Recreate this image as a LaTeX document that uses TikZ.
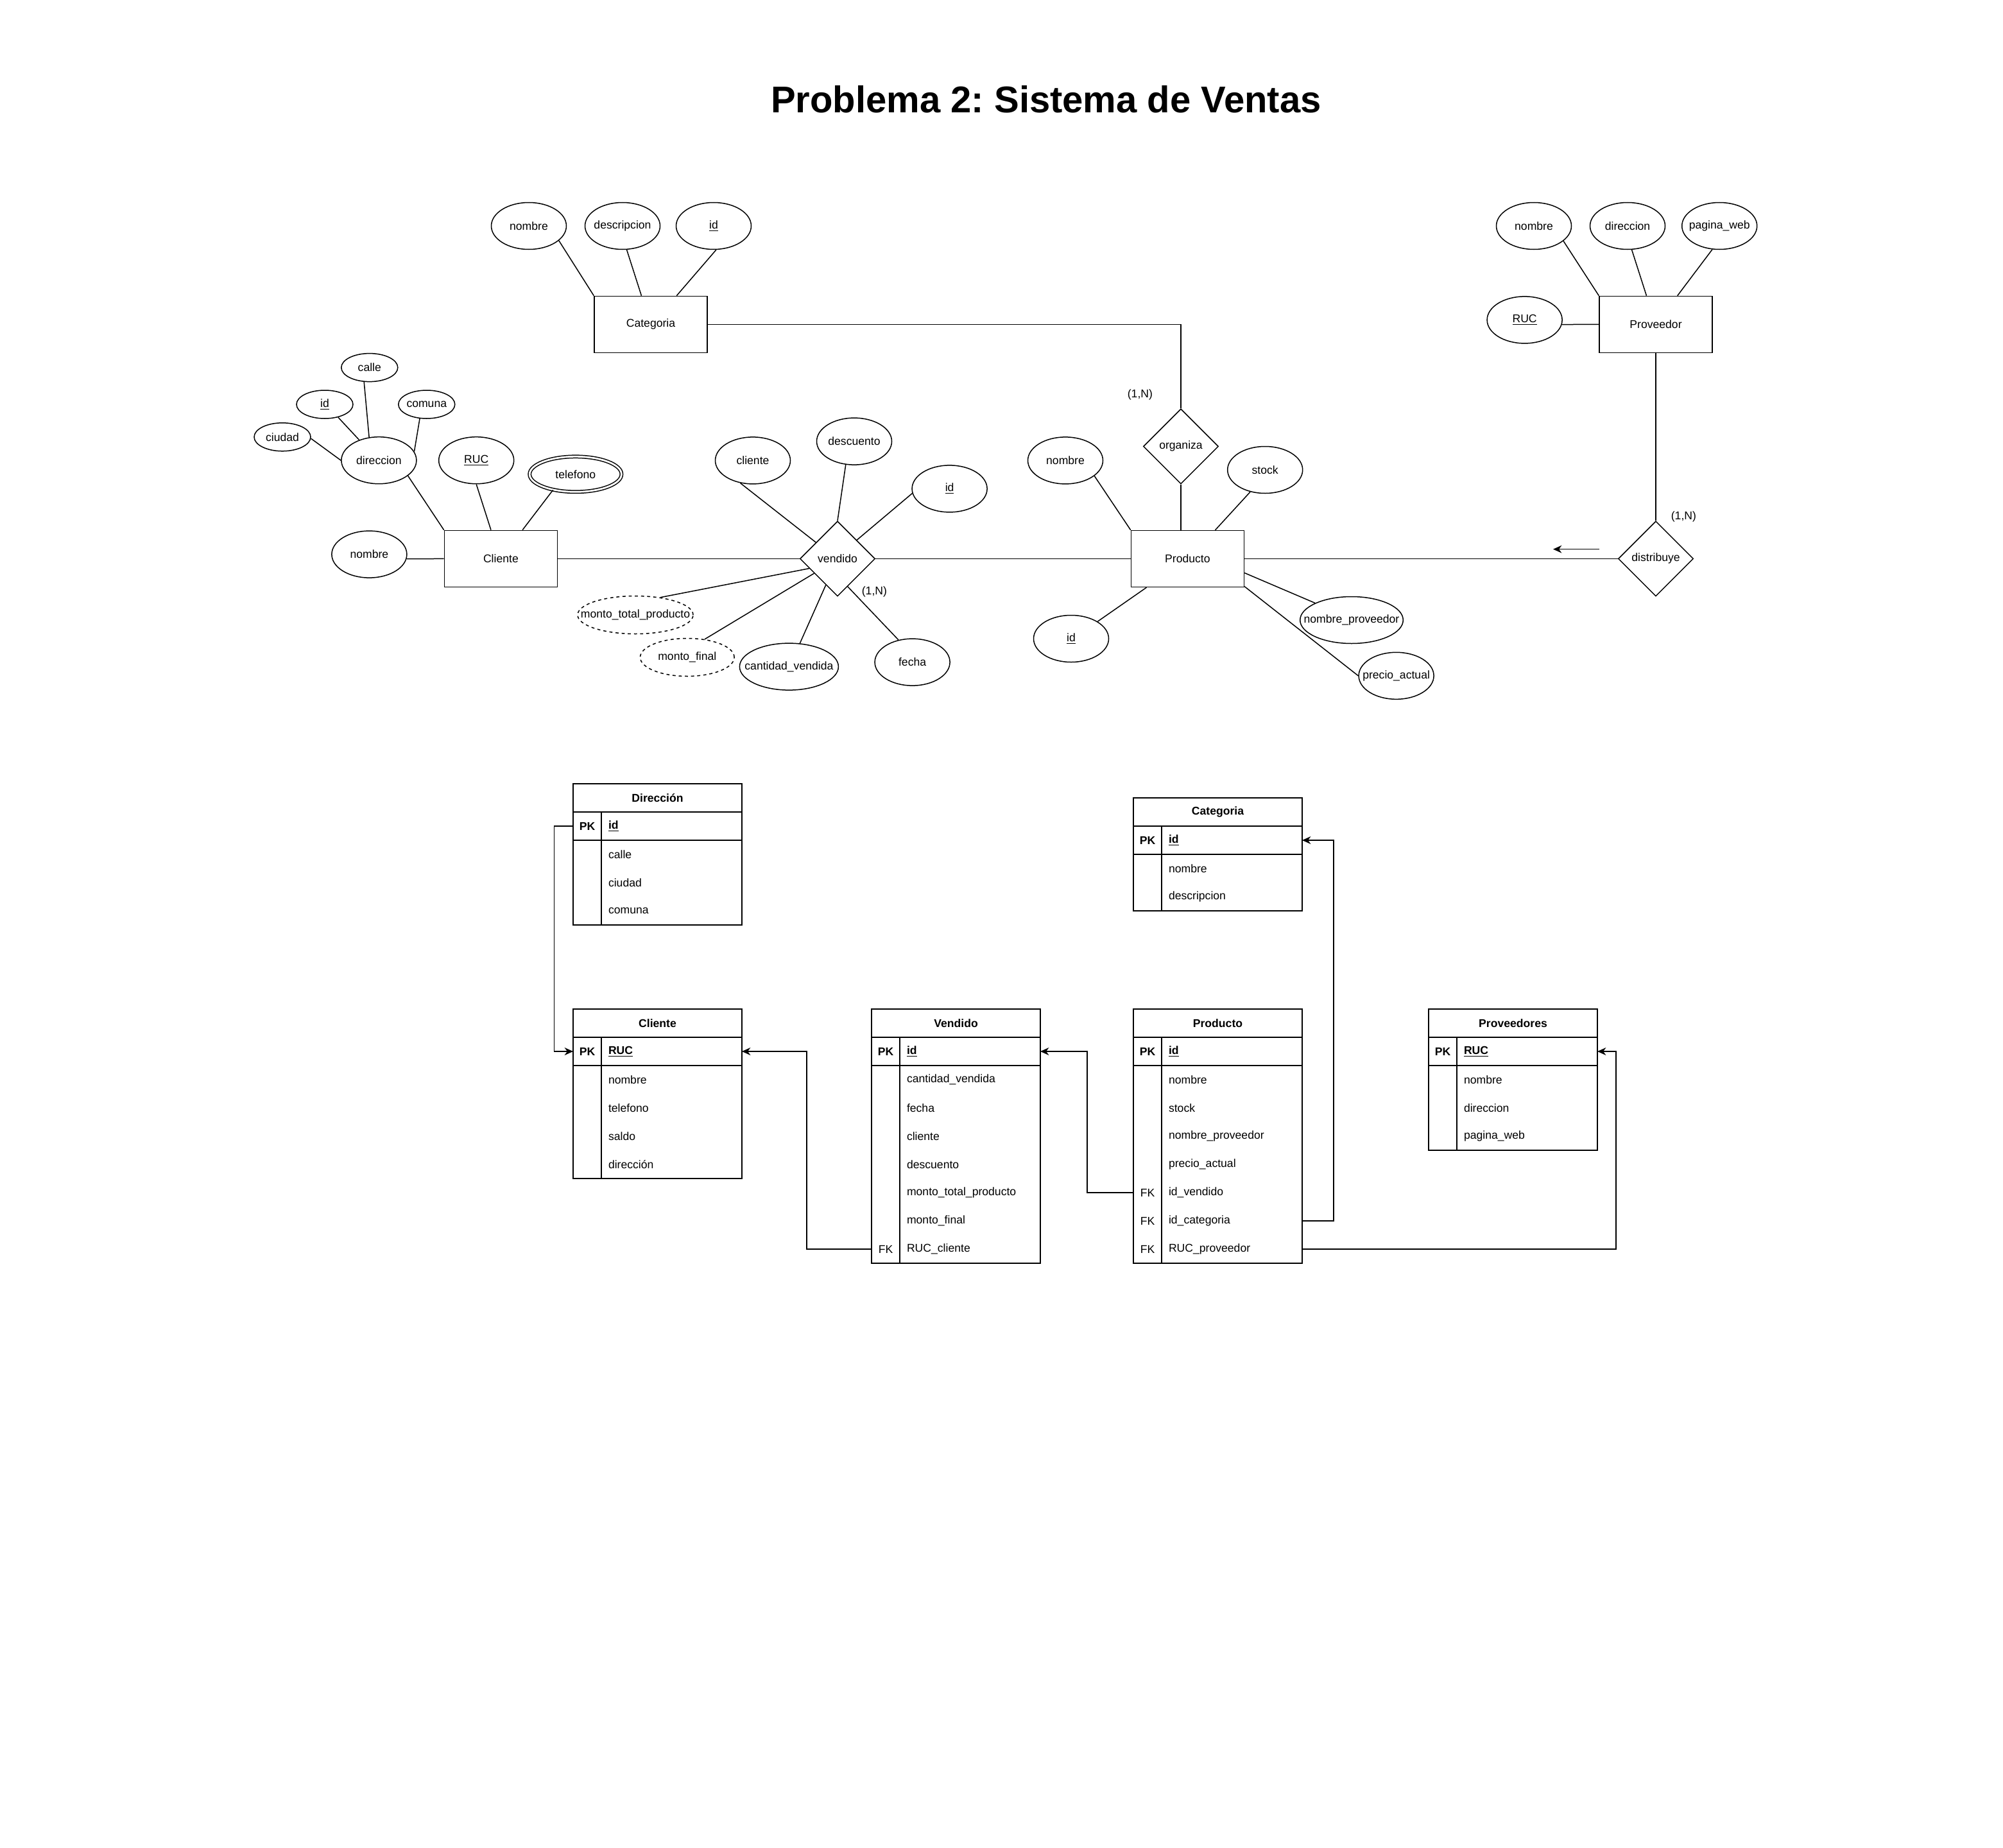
\documentclass[tikz,border=0pt]{standalone}
\usepackage{fontspec}
\setmainfont{Liberation Sans}
\usetikzlibrary{arrows.meta,shapes.geometric}
\frenchspacing

\tikzset{
    entity/.style={draw, rectangle, minimum width=88pt, minimum height=44pt, inner sep=0pt},
    attrib/.style={draw, ellipse, minimum width=58.5pt, minimum height=36.5pt, inner sep=0pt,
        execute at begin node={\hbox to 0pt\bgroup\hss}, execute at end node={\hss\egroup}},
    subattrib/.style={attrib, minimum width=44pt, minimum height=22pt},
    derived/.style={attrib, dashed, dash pattern=on 2.4pt off 2.4pt, minimum height=29.5pt},
    multival/.style={attrib, double, double distance=1.4pt, minimum width=71.6pt, minimum height=27.5pt},
    relation/.style={draw, diamond, minimum width=58.5pt, minimum height=58.5pt, inner sep=0pt},
    tabhead/.style={draw, rectangle, minimum width=131.5pt, minimum height=22pt, inner sep=0pt,
        outer sep=0pt, font=\fontsize{8.8}{10.5}\selectfont\bfseries},
    keycell/.style={rectangle, minimum width=22pt, minimum height=22pt, inner sep=0pt, outer sep=0pt},
    fieldcell/.style={rectangle, anchor=west, minimum width=109.5pt, minimum height=22pt,
        text width=98.5pt, inner xsep=5.5pt, inner ysep=0pt, outer sep=0pt, align=left},
    fk/.style={-{Stealth[length=6.7pt,width=6pt]}}
}

\begin{document}
\begin{tikzpicture}[x=1pt, y=-1pt, line width=0.75pt, font=\fontsize{8.8}{10.5}\selectfont]
    \path[use as bounding box, fill=white] (0,0) rectangle (1560.5,1439.5);

    \node[font=\fontsize{29}{34}\selectfont\bfseries, anchor=base] (title) at (815,88) {Problema 2: Sistema de Ventas};

    \node[entity] (cat)  at (507,252.7)   {Categoria};
    \node[entity] (prov) at (1290,252.7)  {Proveedor};
    \node[entity] (cli)  at (390.2,435.2) {Cliente};
    \node[entity] (prod) at (925.2,435.2) {Producto};

    \node[relation] (org)  at (920,347.7)   {organiza};
    \node[relation] (ven)  at (652.5,435.2) {vendido};
    \node[relation] (dist) at (1290,435.2)  {distribuye};

    \node[attrib] (catNom) at (412,176) {nombre};
    \node[attrib] (catDes) at (485,176) {descripcion};
    \node[attrib] (catId)  at (556,176) {\underline{id}};

    \node[attrib] (provNom) at (1195,176)     {nombre};
    \node[attrib] (provDir) at (1268,176)     {direccion};
    \node[attrib] (provWeb) at (1339.6,176)   {pagina\_web};
    \node[attrib] (provRuc) at (1187.8,249.2) {\underline{RUC}};

    \node[attrib]    (cliNom)   at (287.7,431.8) {nombre};
    \node[attrib]    (cliDir)   at (295.2,358.6) {direccion};
    \node[attrib]    (cliRuc)   at (371.1,358.6) {\underline{RUC}};
    \node[multival]  (cliTel)   at (448.4,369.4) {telefono};
    \node[subattrib] (dirCalle) at (287.9,286.3) {calle};
    \node[subattrib] (dirId)    at (253,315)     {\underline{id}};
    \node[subattrib] (dirCom)   at (332.4,315)   {comuna};
    \node[subattrib] (dirCiu)   at (220,340.4)   {ciudad};

    \node[attrib] (venCli) at (586.5,358.7) {cliente};
    \node[attrib] (venDes) at (665.5,343.8) {descuento};
    \node[attrib] (venId)  at (739.8,380.7) {\underline{id}};
    \node[derived, minimum width=90pt]   (venTot) at (495,479)   {monto\_total\_producto};
    \node[derived, minimum width=73.3pt] (venFin) at (535.4,512) {monto\_final};
    \node[attrib, minimum width=77pt]    (venCant) at (614.7,519.3) {cantidad\_vendida};
    \node[attrib] (venFec) at (710.8,515.8) {fecha};

    \node[attrib] (prodNom) at (830,358.7)   {nombre};
    \node[attrib] (prodSto) at (985.6,366)   {stock};
    \node[attrib] (prodId)  at (834.5,497.5) {\underline{id}};
    \node[attrib, minimum width=80.3pt] (prodProv) at (1053,483) {nombre\_proveedor};
    \node[attrib] (prodPre) at (1087.8,526.4) {precio\_actual};

    \node (cardOrg)  at (888.2,307.5)  {(1,N)};
    \node (cardVen)  at (681.2,460.8)  {(1,N)};
    \node (cardDist) at (1311.7,402.5) {(1,N)};

    \draw (catNom.-26) -- (cat.north west);
    \draw (catDes.-80) -- (cat.108);
    \draw (catId.-84) -- (cat.48);
    \draw (cat.east) -| (org.north);

    \draw (provNom.-27) -- (prov.north west);
    \draw (provDir.-80) -- (prov.108);
    \draw (provWeb.-107) -- (prov.53);
    \draw (provRuc.-7) -- (prov.west);
    \draw (prov.south) -- (dist.north);

    \draw (cliNom.-7) -- (cli.west);
    \draw (cliDir.-28) -- (cli.north west);
    \draw (cliRuc.south) -- (cli.109);
    \draw (cliTel.-145) -- (cli.53);
    \draw (dirCalle.-111) -- (cliDir.113);
    \draw (dirId.-44) -- (cliDir.134);
    \draw (dirCom.-116) -- (cliDir.14);
    \draw (dirCiu.-3) -- (cliDir.west);

    \draw (cli.east) -- (ven.west);
    \draw (ven.east) -- (prod.west);
    \draw (venCli.-119) -- (ven.143);
    \draw (venDes.-110) -- (ven.north);
    \draw (venId.-173) -- (ven.44);
    \draw (venTot.35) -- (ven.-161);
    \draw (venFin.46) -- (ven.-148);
    \draw (venCant.65) -- (ven.-114);
    \draw (venFec.122) -- (ven.-70);

    \draw (org.south) -- (org.south |- prod.north);
    \draw (prodNom.-28) -- (prod.north west);
    \draw (prodSto.-124) -- (prod.46);
    \draw (prodId.33) -- (prod.-145);
    \draw (prodProv.155) -- (prod.-14);
    \draw (prodPre.west) -- (prod.-26);
    \draw (prod.east) -- (dist.west);

    \coordinate (arrFrom) at (1246.2,427.8);
    \coordinate (arrTo)   at (1210,427.8);
    \draw[fk] (arrFrom) -- (arrTo);

    \node[tabhead] (dirT) at (512.25,621.6) {Dirección};
    \node[keycell] (dirPKk) at (457.5,643.6) {\textbf{PK}};
    \node[fieldcell] (dirPKf) at (468.5,643.6) {\textbf{\underline{id}}};
    \foreach \k/\f [count=\i] in {/calle,/ciudad,/comuna}
    {
        \node[keycell] (dirK\i) at (457.5,{643.6+22*\i}) {\k};
        \node[fieldcell] (dirF\i) at (468.5,{643.6+22*\i}) {\f};
    }
    \draw (dirT.south west) rectangle (dirF3.south east);
    \draw (dirPKk.south west) -- (dirPKf.south east);
    \draw (dirPKk.north east) -- (dirK3.south east);

    \node[tabhead] (catT) at (948.75,632.5) {Categoria};
    \node[keycell] (catPKk) at (894,654.5) {\textbf{PK}};
    \node[fieldcell] (catPKf) at (905,654.5) {\textbf{\underline{id}}};
    \foreach \k/\f [count=\i] in {/nombre,/descripcion}
    {
        \node[keycell] (catK\i) at (894,{654.5+22*\i}) {\k};
        \node[fieldcell] (catF\i) at (905,{654.5+22*\i}) {\f};
    }
    \draw (catT.south west) rectangle (catF2.south east);
    \draw (catPKk.south west) -- (catPKf.south east);
    \draw (catPKk.north east) -- (catK2.south east);

    \node[tabhead] (cliT) at (512.25,797) {Cliente};
    \node[keycell] (cliPKk) at (457.5,819) {\textbf{PK}};
    \node[fieldcell] (cliPKf) at (468.5,819) {\textbf{\underline{RUC}}};
    \foreach \k/\f [count=\i] in {/nombre,/telefono,/saldo,/dirección}
    {
        \node[keycell] (cliK\i) at (457.5,{819+22*\i}) {\k};
        \node[fieldcell] (cliF\i) at (468.5,{819+22*\i}) {\f};
    }
    \draw (cliT.south west) rectangle (cliF4.south east);
    \draw (cliPKk.south west) -- (cliPKf.south east);
    \draw (cliPKk.north east) -- (cliK4.south east);

    \node[tabhead] (venT) at (744.75,797) {Vendido};
    \node[keycell] (venPKk) at (690,819) {\textbf{PK}};
    \node[fieldcell] (venPKf) at (701,819) {\textbf{\underline{id}}};
    \foreach \k/\f [count=\i] in {/cantidad\_vendida,/fecha,/cliente,/descuento,/monto\_total\_producto,/monto\_final,FK/RUC\_cliente}
    {
        \node[keycell] (venK\i) at (690,{819+22*\i}) {\k};
        \node[fieldcell] (venF\i) at (701,{819+22*\i}) {\f};
    }
    \draw (venT.south west) rectangle (venF7.south east);
    \draw (venPKk.south west) -- (venPKf.south east);
    \draw (venPKk.north east) -- (venK7.south east);

    \node[tabhead] (prodT) at (948.75,797) {Producto};
    \node[keycell] (prodPKk) at (894,819) {\textbf{PK}};
    \node[fieldcell] (prodPKf) at (905,819) {\textbf{\underline{id}}};
    \foreach \k/\f [count=\i] in {/nombre,/stock,/nombre\_proveedor,/precio\_actual,FK/id\_vendido,FK/id\_categoria,FK/RUC\_proveedor}
    {
        \node[keycell] (prodK\i) at (894,{819+22*\i}) {\k};
        \node[fieldcell] (prodF\i) at (905,{819+22*\i}) {\f};
    }
    \draw (prodT.south west) rectangle (prodF7.south east);
    \draw (prodPKk.south west) -- (prodPKf.south east);
    \draw (prodPKk.north east) -- (prodK7.south east);

    \node[tabhead] (provT) at (1178.75,797) {Proveedores};
    \node[keycell] (provPKk) at (1124,819) {\textbf{PK}};
    \node[fieldcell] (provPKf) at (1135,819) {\textbf{\underline{RUC}}};
    \foreach \k/\f [count=\i] in {/nombre,/direccion,/pagina\_web}
    {
        \node[keycell] (provK\i) at (1124,{819+22*\i}) {\k};
        \node[fieldcell] (provF\i) at (1135,{819+22*\i}) {\f};
    }
    \draw (provT.south west) rectangle (provF3.south east);
    \draw (provPKk.south west) -- (provPKf.south east);
    \draw (provPKk.north east) -- (provK3.south east);

    \draw[fk] (dirPKk.west) -- ++(-14.7,0) |- (cliPKk.west);
    \draw[fk] (venK7.west) -- ++(-50.5,0) |- (cliPKf.east);
    \draw[fk] (prodK5.west) -- ++(-36,0) |- (venPKf.east);
    \draw[fk] (prodF6.east) -- ++(24.5,0) |- (catPKf.east);
    \draw[fk] (prodF7.east) -- ++(244.5,0) |- (provPKf.east);
\end{tikzpicture}
\end{document}
